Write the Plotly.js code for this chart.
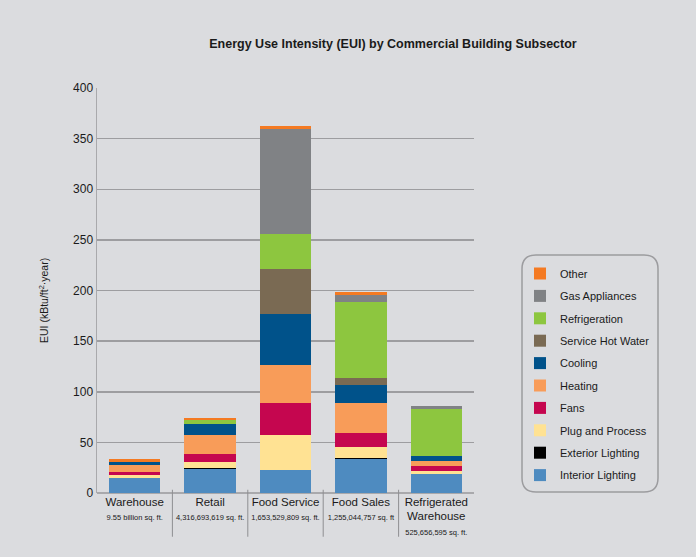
<!DOCTYPE html>
<html>
<head>
<meta charset="utf-8">
<script src="https://cdn.plot.ly/plotly-3.0.1.min.js"></script>
<style>
  html, body { margin: 0; padding: 0; background: #dbdcdf; }
  #chart { width: 696px; height: 557px; }
</style>
</head>
<body>
<div id="chart"></div>
<script>
// ---- Data ----
const categories = ["Warehouse", "Retail", "Food Service", "Food Sales", "Refrigerated Warehouse"];
const tickLabels = [
  "Warehouse<br><span style='font-size:7.5px'>9.55 billion sq. ft.</span>",
  "Retail<br><span style='font-size:7.5px'>4,316,693,619 sq. ft.</span>",
  "Food Service<br><span style='font-size:7.5px'>1,653,529,809 sq. ft.</span>",
  "Food Sales<br><span style='font-size:7.5px'>1,255,044,757 sq. ft</span>",
  "Refrigerated<br>Warehouse<br><span style='font-size:7.5px'>525,656,595 sq. ft.</span>"
];
const seriesNames = ["Interior Lighting", "Exterior Lighting", "Plug and Process", "Fans", "Heating",
                     "Cooling", "Service Hot Water", "Refrigeration", "Gas Appliances", "Other"];
const interiorLighting = [14.5, 23.4, 22.4, 33.3, 18.5];
const exteriorLighting = [0.3, 1.0, 0.3, 1.0, 0.3];
const plugProcess      = [3.0, 6.0, 34.5, 10.9, 3.0];
const fans             = [3.0, 8.0, 31.6, 13.8, 5.0];
const heating          = [7.0, 18.7, 37.5, 29.6, 5.0];
const cooling          = [3.0, 10.9, 50.3, 17.8, 5.0];
const serviceHotWater  = [0.0, 0.0, 44.4, 6.9, 0.0];
const refrigeration    = [0.0, 4.3, 34.5, 75.0, 46.4];
const gasAppliances    = [0.0, 0.0, 103.6, 6.9, 3.0];
const other            = [3.0, 1.7, 3.0, 3.0, 0.0];
const seriesValues = [interiorLighting, exteriorLighting, plugProcess, fans, heating,
                      cooling, serviceHotWater, refrigeration, gasAppliances, other];
const seriesColors = ["#4e8bc0", "#000000", "#ffe293", "#c5064f", "#f89c59",
                      "#00528a", "#7a6a53", "#8dc63f", "#808285", "#f47a22"];
const yTicks = [0, 50, 100, 150, 200, 250, 300, 350, 400];

// ---- Traces ----
const traces = seriesNames.map((name, i) => ({
  type: "bar",
  name: name,
  x: categories,
  y: seriesValues[i],
  marker: { color: seriesColors[i], line: { width: 0 } },
  legendgroup: name,
  legendrank: 100 - i,
  hoverinfo: "name+y"
}));

const FONT = "'Liberation Sans', Arial, sans-serif";

// Category separators below the axis
const shapes = [];
for (let i = 0; i < categories.length - 1; i++) {
  shapes.push({
    type: "line", xref: "x", yref: "paper",
    x0: i + 0.5, x1: i + 0.5, y0: 0.008, y1: -0.108,
    line: { color: "#8f8f92", width: 1 }
  });
}
// Rounded legend box (paper coords computed from pixel geometry)
const plotL = 97, plotR = 474, plotT = 88, plotB = 493;
const px = v => (v - plotL) / (plotR - plotL);
const py = v => (plotB - v) / (plotB - plotT);
(function () {
  const L = 522, R = 658, T = 255, B = 492, r = 14;
  const p = [
    `M ${px(L + r)} ${py(T)}`,
    `L ${px(R - r)} ${py(T)}`,
    `Q ${px(R)} ${py(T)} ${px(R)} ${py(T + r)}`,
    `L ${px(R)} ${py(B - r)}`,
    `Q ${px(R)} ${py(B)} ${px(R - r)} ${py(B)}`,
    `L ${px(L + r)} ${py(B)}`,
    `Q ${px(L)} ${py(B)} ${px(L)} ${py(B - r)}`,
    `L ${px(L)} ${py(T + r)}`,
    `Q ${px(L)} ${py(T)} ${px(L + r)} ${py(T)}`,
    "Z"
  ].join(" ");
  shapes.push({
    type: "path", xref: "paper", yref: "paper", path: p,
    line: { color: "#9c9c9f", width: 1.5 }, fillcolor: "rgba(0,0,0,0)", layer: "below"
  });
})();

const layout = {
  width: 696, height: 557,
  paper_bgcolor: "#dbdcdf",
  plot_bgcolor: "#dbdcdf",
  font: { family: FONT, color: "#1a1a1a", size: 12 },
  margin: { l: plotL, r: 696 - plotR, t: plotT, b: 557 - plotB, pad: 0 },
  title: {
    text: "<b>Energy Use Intensity (EUI) by Commercial Building Subsector</b>",
    font: { family: FONT, size: 12.5, color: "#1a1a1a" },
    x: 393 / 696, xanchor: "center", y: 1 - 44 / 557, yanchor: "middle"
  },
  barmode: "stack",
  bargap: 0.32,
  xaxis: {
    type: "category",
    tickmode: "array",
    tickvals: categories,
    ticktext: tickLabels,
    tickangle: 0,
    ticks: "",
    showline: false,
    showgrid: false,
    zeroline: false,
    tickfont: { family: FONT, size: 11.5, color: "#1a1a1a" },
    fixedrange: true
  },
  yaxis: {
    range: [0, 400],
    tickmode: "array",
    tickvals: yTicks,
    ticks: "",
    showline: true,
    linecolor: "#a9a9ac",
    linewidth: 1.5,
    showgrid: true,
    gridcolor: "#9d9da0",
    gridwidth: 1.5,
    zeroline: true,
    zerolinecolor: "#a9a9ac",
    zerolinewidth: 2,
    tickfont: { family: FONT, size: 12, color: "#1a1a1a" },
    fixedrange: true
  },
  annotations: [{
    text: "EUI (kBtu/ft<sup>2</sup>·year)",
    xref: "paper", yref: "paper",
    x: px(43), y: py(300), xanchor: "center", yanchor: "middle",
    textangle: -90, showarrow: false,
    font: { family: FONT, size: 10.5, color: "#1a1a1a" }
  }],
  showlegend: true,
  legend: {
    traceorder: "grouped",
    tracegroupgap: 3.4,
    x: px(520), xanchor: "left",
    y: py(259), yanchor: "top",
    bgcolor: "rgba(0,0,0,0)",
    borderwidth: 0,
    font: { family: FONT, size: 11, color: "#1a1a1a" }
  },
  shapes: shapes
};

Plotly.newPlot("chart", traces, layout, { displayModeBar: false, staticPlot: true });
</script>
</body>
</html>
